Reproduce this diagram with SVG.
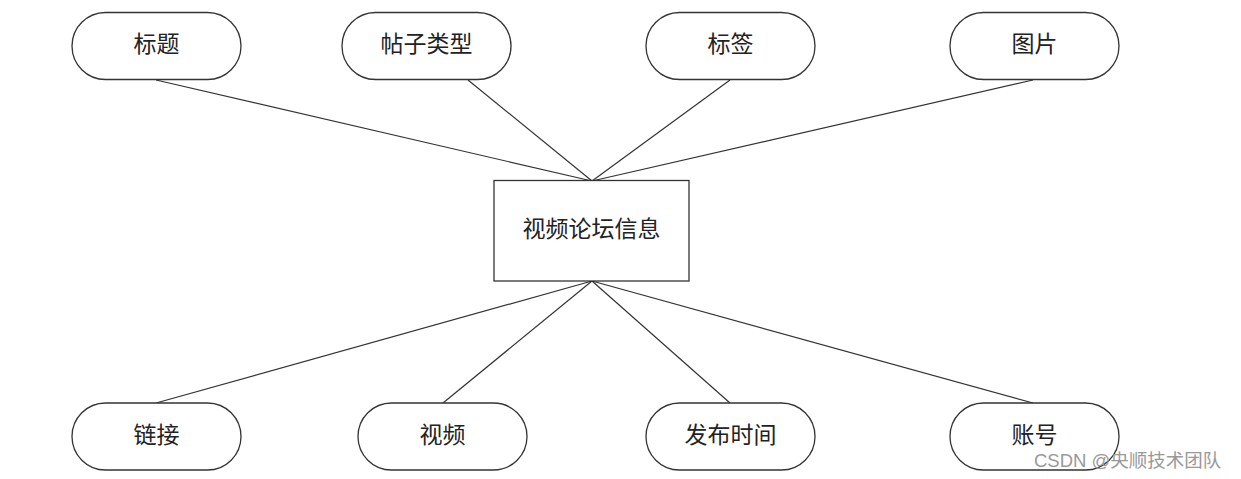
<svg xmlns="http://www.w3.org/2000/svg" width="1241" height="479" viewBox="0 0 1241 479">
<style>
.n{fill:#fff;stroke:#333;stroke-width:1.3}
.t{font-family:"Liberation Serif","Noto Sans CJK SC",serif;font-size:23px;fill:#222;text-anchor:middle;dominant-baseline:central}
.c{stroke:#333;stroke-width:1.2;fill:none}
.w{font-family:"Liberation Sans","Noto Sans CJK SC",sans-serif;font-size:18.5px;fill:#999}
</style>
<rect width="1241" height="479" fill="#fff"/>
<g id="connectors">
<line class="c" x1="156" y1="80" x2="592" y2="181"/>
<line class="c" x1="468" y1="80" x2="592" y2="181"/>
<line class="c" x1="730" y1="80" x2="592" y2="181"/>
<line class="c" x1="1033" y1="80" x2="592" y2="181"/>
<line class="c" x1="592" y1="281" x2="156" y2="403"/>
<line class="c" x1="592" y1="281" x2="443" y2="403"/>
<line class="c" x1="592" y1="281" x2="730" y2="403"/>
<line class="c" x1="592" y1="281" x2="1033" y2="403"/>
</g>
<g id="center"><rect class="n" x="494" y="180.5" width="195" height="100.5"/><text class="t" x="591.5" y="229">视频论坛信息</text></g>
<g id="n1"><rect class="n" x="72" y="12.5" width="169" height="67" rx="33.5"/><text class="t" x="156.5" y="44">标题</text></g>
<g id="n2"><rect class="n" x="342" y="12.5" width="169" height="67" rx="33.5"/><text class="t" x="426.5" y="44">帖子类型</text></g>
<g id="n3"><rect class="n" x="646" y="12.5" width="169" height="67" rx="33.5"/><text class="t" x="730.5" y="44">标签</text></g>
<g id="n4"><rect class="n" x="950" y="12.5" width="169" height="67" rx="33.5"/><text class="t" x="1034.5" y="44">图片</text></g>
<g id="n5"><rect class="n" x="72" y="403" width="169" height="67" rx="33.5"/><text class="t" x="156.5" y="435">链接</text></g>
<g id="n6"><rect class="n" x="358" y="403" width="169" height="67" rx="33.5"/><text class="t" x="442.5" y="435">视频</text></g>
<g id="n7"><rect class="n" x="646" y="403" width="169" height="67" rx="33.5"/><text class="t" x="730.5" y="435">发布时间</text></g>
<g id="n8"><rect class="n" x="950" y="403" width="169" height="67" rx="33.5"/><text class="t" x="1034.5" y="435">账号</text></g>
<text class="w" x="1034" y="467">CSDN @央顺技术团队</text>
</svg>
